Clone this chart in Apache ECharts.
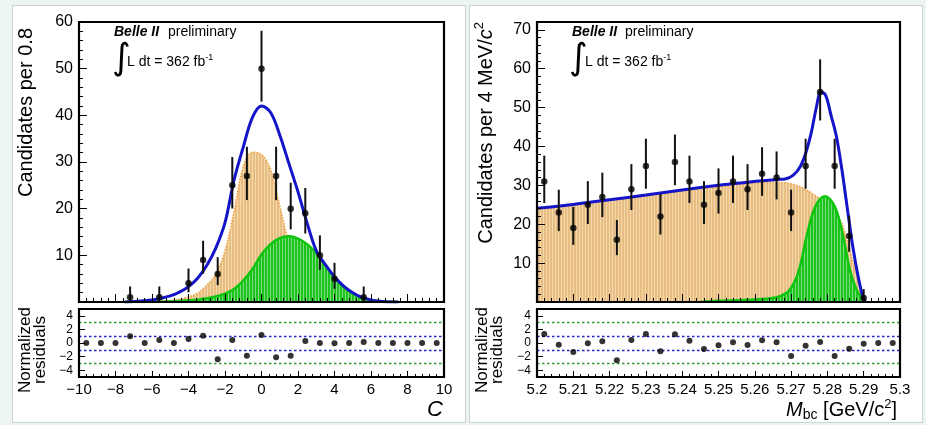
<!DOCTYPE html>
<html>
<head>
<meta charset="utf-8">
<script src="https://cdn.jsdelivr.net/npm/echarts@6/dist/echarts.min.js"></script>
<style>
  html, body { margin: 0; padding: 0; background: #edf5f1; }
  #wrap { position: relative; width: 926px; height: 425px; background: #edf5f1; overflow: hidden; }
  .panel { position: absolute; background: #fff; border: 1px solid #cbd5d0; box-sizing: border-box; }
  #chart { position: absolute; left: 0; top: 0; width: 926px; height: 425px; }
</style>
</head>
<body>
<div id="wrap">
  <div class="panel" style="left:12px;top:5px;width:454px;height:418px"></div>
  <div class="panel" style="left:469px;top:5px;width:454px;height:418px"></div>
  <div id="chart"></div>
</div>
<script>
// ---------------- C distribution (left) ----------------
const cBinCenters = [-9.6, -8.8, -8.0, -7.2, -6.4, -5.6, -4.8, -4.0, -3.2, -2.4, -1.6, -0.8, 0,
                     0.8, 1.6, 2.4, 3.2, 4.0, 4.8, 5.6, 6.4, 7.2, 8.0, 8.8, 9.6];
const cCounts = [0, 0, 0, 1, 0, 1, 0, 4, 9, 6, 25, 27, 50, 27, 20, 19, 10, 5, 0, 1, 0, 0, 0, 0, 0];
const cResiduals = [0, 0, 0, 0.98, 0, 0.44, 0, 0.59, 1.08, -2.4, 0.44, -1.86, 1.18,
                    -2.1, -1.86, 0.3, 0, -0.05, 0, 0.15, 0, 0, 0, 0, 0];

// fit curves sampled along C
const cCurveX = [-7.5, -7, -6.5, -6, -5.5, -5, -4.5, -4, -3.5, -3, -2.5, -2, -1.5, -1, -0.5,
                 0, 0.5, 1, 1.5, 2, 2.5, 3, 3.5, 4, 4.5, 5, 5.5, 6, 6.5, 7, 7.5];
const cTotal = [0, 0.1, 0.25, 0.45, 0.8, 1.3, 2.1, 3.3, 5.1, 7.8, 11.6, 17.0, 26.2, 33.2, 39.5,
                42.0, 40.6, 35.8, 29.7, 23.6, 16.9, 11.0, 8.0, 5.4, 3.4, 2.0, 1.0, 0.45, 0.15, 0.02, 0];
const cBackground = [0, 0, 0.05, 0.1, 0.2, 0.35, 0.6, 1.1, 1.9, 3.6, 6.0, 11.0, 19.5, 29.0, 32.1,
                     31.6, 28.4, 20.6, 12.8, 8.5, 4.5, 1.5, 0.5, 0.1, 0, 0, 0, 0, 0, 0, 0];
const cSignal = [0, 0, 0, 0.02, 0.06, 0.12, 0.2, 0.35, 0.5, 0.8, 1.2, 1.8, 2.8, 4.6, 7.0,
                 10.2, 12.4, 13.7, 14.1, 13.6, 12.4, 10.5, 7.8, 5.2, 3.2, 1.8, 0.85, 0.4, 0.15, 0.03, 0];

const cTicks = [-10, -8, -6, -4, -2, 0, 2, 4, 6, 8, 10];

// ---------------- Mbc distribution (right) ----------------
const mBinCenters = [5.202, 5.206, 5.210, 5.214, 5.218, 5.222, 5.226, 5.230, 5.234, 5.238, 5.242,
                     5.246, 5.250, 5.254, 5.258, 5.262, 5.266, 5.270, 5.274, 5.278, 5.282, 5.286,
                     5.290, 5.294, 5.298];
const mCounts = [31, 23, 19, 25, 27, 16, 29, 35, 22, 36, 31, 25, 28, 31, 29, 33, 32, 23, 35, 54,
                 35, 17, 1, 0, 0];
const mResiduals = [1.32, -0.25, -1.32, -0.05, 0.25, -2.55, 0.44, 1.32, -1.23, 1.27, 0.34, -0.88,
                    -0.34, 0.1, -0.3, 0.39, 0.1, -1.91, -0.39, 0.15, -1.91, -0.83, -0.1, 0, 0];

const mTotalX = [5.200, 5.210, 5.220, 5.230, 5.240, 5.250, 5.256, 5.262, 5.266, 5.2686, 5.2706,
                 5.2725, 5.2740, 5.2755, 5.2770, 5.2782, 5.2795, 5.2810, 5.2825, 5.2840, 5.2855,
                 5.2870, 5.2885, 5.2898, 5.2905];
const mTotal = [24.1, 25.1, 26.3, 27.5, 28.8, 30.0, 30.6, 31.2, 31.5, 31.7, 32.6, 34.8, 38.2, 43.3,
                50.2, 54.0, 53.2, 48.0, 42.5, 34.0, 24.0, 14.2, 6.4, 1.2, 0];
const mBkgX = [5.200, 5.210, 5.220, 5.230, 5.240, 5.250, 5.258, 5.264, 5.268, 5.272, 5.276, 5.280,
               5.2835, 5.2853, 5.2870, 5.2882, 5.2893, 5.2900, 5.2905];
const mBkg = [24.0, 25.0, 26.2, 27.4, 28.6, 29.7, 30.5, 30.8, 30.7, 29.8, 27.8, 25.0, 21.0, 16.3,
              10.5, 6.5, 3.2, 1.0, 0];
const mSigX = [5.245, 5.250, 5.258, 5.264, 5.267, 5.2695, 5.272, 5.2743, 5.2766, 5.2793, 5.2821,
               5.2844, 5.2862, 5.2881, 5.2897, 5.2905];
const mSig = [0, 0.3, 0.6, 0.9, 1.5, 3.0, 7.7, 17.0, 24.4, 27.2, 24.4, 16.7, 8.2, 3.0, 0.8, 0];

const mTicks = [5.20, 5.21, 5.22, 5.23, 5.24, 5.25, 5.26, 5.27, 5.28, 5.29, 5.30];
const residTicks = [-4, -2, 0, 2, 4];

// ---------------- helpers ----------------
const FONT = "'Liberation Sans', Arial, Helvetica, sans-serif";

// Central 68% Poisson interval for an observed count (Gehrels approximation)
function poissonInterval(n) {
  const lo = n * Math.pow(1 - 1 / (9 * n) - 1 / (3 * Math.sqrt(n)), 3);
  const hi = n + 1 + Math.sqrt(n + 0.75);
  return [lo, hi];
}

function zip(xs, ys) { return xs.map((x, i) => [x, ys[i]]); }

// vertical hatch used for the filled fit components
function stripes(base, light, period) {
  const cv = document.createElement('canvas');
  cv.width = period; cv.height = 4;
  const ctx = cv.getContext('2d');
  ctx.fillStyle = base; ctx.fillRect(0, 0, period, 4);
  ctx.fillStyle = light; ctx.fillRect(0, 0, 1, 4);
  return { image: cv, repeat: 'repeat' };
}
const bkgFill = stripes('#e8bd82', '#f4d8ae', 3);
const sigFill = stripes('#1cc31c', '#7ddc7d', 3);

function curve(name, xi, yi, xs, ys, kind) {
  const s = {
    name, type: 'line', xAxisIndex: xi, yAxisIndex: yi, data: zip(xs, ys),
    smooth: 0.35, showSymbol: false, silent: true, animation: false
  };
  if (kind === 'bkg') {
    s.lineStyle = { color: '#f0a040', width: 1.6, type: [1.5, 1.5] };
    s.areaStyle = { color: bkgFill, opacity: 1 };
    s.z = 2;
  } else if (kind === 'sig') {
    s.lineStyle = { color: '#0ec40e', width: 2.5 };
    s.areaStyle = { color: sigFill, opacity: 1 };
    s.z = 3;
  } else {
    s.lineStyle = { color: '#1414c8', width: 3 };
    s.z = 4;
  }
  return s;
}

function errorBars(xi, yi, xs, counts) {
  const data = [];
  xs.forEach((x, i) => {
    if (counts[i] > 0) { const iv = poissonInterval(counts[i]); data.push([x, iv[0], iv[1]]); }
  });
  return {
    type: 'custom', xAxisIndex: xi, yAxisIndex: yi, data, z: 5, silent: true, animation: false,
    encode: { x: 0, y: [1, 2] },
    renderItem(params, api) {
      const a = api.coord([api.value(0), api.value(1)]);
      const b = api.coord([api.value(0), api.value(2)]);
      return { type: 'line', shape: { x1: a[0], y1: a[1], x2: b[0], y2: b[1] },
               style: { stroke: '#111', lineWidth: 2 } };
    }
  };
}

function points(xi, yi, xs, ys, skipZero) {
  const data = [];
  xs.forEach((x, i) => { if (!skipZero || ys[i] > 0) data.push([x, ys[i]]); });
  return { type: 'scatter', xAxisIndex: xi, yAxisIndex: yi, data, symbol: 'circle',
           symbolSize: 6.5, itemStyle: { color: '#000' }, z: 6, silent: true, animation: false };
}

function guideLines() {
  const blue = { color: '#2323c8', width: 1.3, type: [2.5, 2.5] };
  const green = { color: '#2e9a2e', width: 1.3, type: [2.5, 2.5] };
  return {
    silent: true, symbol: 'none', label: { show: false }, animation: false,
    data: [
      { yAxis: 1, lineStyle: blue }, { yAxis: -1, lineStyle: blue },
      { yAxis: 3, lineStyle: green }, { yAxis: -3, lineStyle: green }
    ]
  };
}

const minus = v => String(v).replace('-', '\u2212');

function xAxisDef(gi, min, max, interval, ticks, showLabels, fmt, majorLen, minorLen) {
  return {
    type: 'value', gridIndex: gi, min, max, interval, z: 12, position: 'bottom',
    axisLine: { show: false, onZero: false },
    splitLine: { show: false },
    axisTick: { show: true, inside: true, length: majorLen, lineStyle: { color: '#000', width: 1 } },
    minorTick: { show: true, splitNumber: 5, length: minorLen, lineStyle: { color: '#000', width: 1 } },
    axisLabel: { show: showLabels, color: '#000', fontSize: 15, fontFamily: FONT, margin: 5,
                 formatter: fmt, customValues: ticks, hideOverlap: false }
  };
}

function yAxisDef(gi, min, max, interval, labelVals, fontSize, majorLen, minorLen) {
  const ax = {
    type: 'value', gridIndex: gi, min, max, z: 12, position: 'left',
    axisLine: { show: false, onZero: false },
    splitLine: { show: false },
    axisTick: { show: true, inside: true, length: majorLen, customValues: labelVals,
                lineStyle: { color: '#000', width: 1 } },
    axisLabel: { show: true, color: '#000', fontSize, fontFamily: FONT, margin: 6,
                 customValues: labelVals, formatter: minus }
  };
  if (interval) ax.interval = interval;
  if (minorLen) {
    ax.minorTick = { show: true, splitNumber: 5, length: minorLen, lineStyle: { color: '#000', width: 1 } };
  }
  return ax;
}

const frame = { show: true, borderColor: '#000', borderWidth: 2.2, backgroundColor: 'transparent', z: 11 };

const option = {
  backgroundColor: 'transparent',
  animation: false,
  grid: [
    Object.assign({ left: 79, top: 22, width: 365, height: 280 }, frame),
    Object.assign({ left: 537, top: 22, width: 363, height: 280 }, frame),
    Object.assign({ left: 79, top: 309, width: 365, height: 68 }, frame),
    Object.assign({ left: 537, top: 309, width: 363, height: 68 }, frame)
  ],
  xAxis: [
    xAxisDef(0, -10, 10, 2, cTicks, false, minus, 8, 4),
    xAxisDef(1, 5.2, 5.3, 0.01, mTicks, false, null, 8, 4),
    xAxisDef(2, -10, 10, 2, cTicks, true, minus, 6, 3),
    xAxisDef(3, 5.2, 5.3, 0.01, mTicks, true, v => String(+(+v).toFixed(2)), 6, 3)
  ],
  yAxis: [
    yAxisDef(0, 0, 60, 10, [10, 20, 30, 40, 50, 60], 16, 8, 4),
    yAxisDef(1, 0, 72, 10, [10, 20, 30, 40, 50, 60, 70], 16, 8, 4),
    yAxisDef(2, -5, 5, null, residTicks, 12, 6, 0),
    yAxisDef(3, -5, 5, null, residTicks, 12, 6, 0)
  ],
  series: [
    curve('C background', 0, 0, cCurveX, cBackground, 'bkg'),
    curve('C signal', 0, 0, cCurveX, cSignal, 'sig'),
    curve('C total', 0, 0, cCurveX, cTotal, 'tot'),
    errorBars(0, 0, cBinCenters, cCounts),
    points(0, 0, cBinCenters, cCounts, true),

    curve('Mbc background', 1, 1, mBkgX, mBkg, 'bkg'),
    curve('Mbc signal', 1, 1, mSigX, mSig, 'sig'),
    curve('Mbc total', 1, 1, mTotalX, mTotal, 'tot'),
    errorBars(1, 1, mBinCenters, mCounts),
    points(1, 1, mBinCenters, mCounts, true),

    Object.assign(points(2, 2, cBinCenters, cResiduals, false), { markLine: guideLines(), symbolSize: 6 }),
    Object.assign(points(3, 3, mBinCenters, mResiduals, false), { markLine: guideLines(), symbolSize: 6 })
  ],
  graphic: [
    // y-axis titles
    { type: 'text', x: 26, y: 28, rotation: Math.PI / 2, z: 100,
      style: { text: 'Candidates per 0.8', fontSize: 20, fontFamily: FONT, fill: '#000',
               align: 'right', verticalAlign: 'middle' } },
    { type: 'text', x: 486, y: 22, rotation: Math.PI / 2, z: 100,
      style: { text: '{a|Candidates per 4 MeV/}{i|c}{s|2}', align: 'right', verticalAlign: 'middle',
               rich: {
                 a: { fontSize: 20, fontFamily: FONT, fill: '#000', lineHeight: 26 },
                 i: { fontSize: 20, fontFamily: FONT, fill: '#000', fontStyle: 'italic', lineHeight: 26 },
                 s: { fontSize: 13, fontFamily: FONT, fill: '#000', lineHeight: 14, verticalAlign: 'top' }
               } } },
    { type: 'text', x: 33, y: 350, rotation: Math.PI / 2, z: 100,
      style: { text: 'Normalized\nresiduals', fontSize: 17, lineHeight: 15, fontFamily: FONT, fill: '#000',
               align: 'center', verticalAlign: 'middle' } },
    { type: 'text', x: 490, y: 350, rotation: Math.PI / 2, z: 100,
      style: { text: 'Normalized\nresiduals', fontSize: 17, lineHeight: 15, fontFamily: FONT, fill: '#000',
               align: 'center', verticalAlign: 'middle' } },
    // x-axis titles
    { type: 'text', x: 443, y: 410, z: 100,
      style: { text: 'C', fontSize: 22, fontStyle: 'italic', fontFamily: FONT, fill: '#000',
               align: 'right', verticalAlign: 'middle' } },
    { type: 'text', x: 897, y: 410, z: 100,
      style: { text: '{m|M}{b|bc}{a| [GeV/c}{s|2}{a|]}', align: 'right', verticalAlign: 'middle',
               rich: {
                 m: { fontSize: 20, fontFamily: FONT, fill: '#000', fontStyle: 'italic', lineHeight: 24 },
                 a: { fontSize: 20, fontFamily: FONT, fill: '#000', lineHeight: 24 },
                 b: { fontSize: 14, fontFamily: FONT, fill: '#000', lineHeight: 14, verticalAlign: 'bottom' },
                 s: { fontSize: 13, fontFamily: FONT, fill: '#000', lineHeight: 13, verticalAlign: 'top' }
               } } },
    // experiment labels, left
    { type: 'text', x: 114, y: 32, z: 100,
      style: { text: 'Belle II', fontSize: 14, fontWeight: 'bold', fontStyle: 'italic', fontFamily: FONT,
               fill: '#000', verticalAlign: 'middle' } },
    { type: 'text', x: 168, y: 32, z: 100,
      style: { text: 'preliminary', fontSize: 14, fontFamily: FONT, fill: '#000', verticalAlign: 'middle' } },
    { type: 'text', x: 112, y: 60, z: 100,
      style: { text: '\u222B', fontSize: 36, fontFamily: "'DejaVu Sans', sans-serif", fill: '#000',
               verticalAlign: 'middle' } },
    { type: 'text', x: 127, y: 62, z: 100,
      style: { text: '{t|L dt = 362 fb}{s|-1}', verticalAlign: 'middle',
               rich: {
                 t: { fontSize: 14, fontFamily: FONT, fill: '#000', lineHeight: 18 },
                 s: { fontSize: 9, fontFamily: FONT, fill: '#000', lineHeight: 10, verticalAlign: 'top' }
               } } },
    // experiment labels, right
    { type: 'text', x: 572, y: 32, z: 100,
      style: { text: 'Belle II', fontSize: 14, fontWeight: 'bold', fontStyle: 'italic', fontFamily: FONT,
               fill: '#000', verticalAlign: 'middle' } },
    { type: 'text', x: 625, y: 32, z: 100,
      style: { text: 'preliminary', fontSize: 14, fontFamily: FONT, fill: '#000', verticalAlign: 'middle' } },
    { type: 'text', x: 569, y: 60, z: 100,
      style: { text: '\u222B', fontSize: 36, fontFamily: "'DejaVu Sans', sans-serif", fill: '#000',
               verticalAlign: 'middle' } },
    { type: 'text', x: 585, y: 62, z: 100,
      style: { text: '{t|L dt = 362 fb}{s|-1}', verticalAlign: 'middle',
               rich: {
                 t: { fontSize: 14, fontFamily: FONT, fill: '#000', lineHeight: 18 },
                 s: { fontSize: 9, fontFamily: FONT, fill: '#000', lineHeight: 10, verticalAlign: 'top' }
               } } }
  ]
};

const chart = echarts.init(document.getElementById('chart'), null, { width: 926, height: 425 });
chart.setOption(option);
</script>
</body>
</html>
